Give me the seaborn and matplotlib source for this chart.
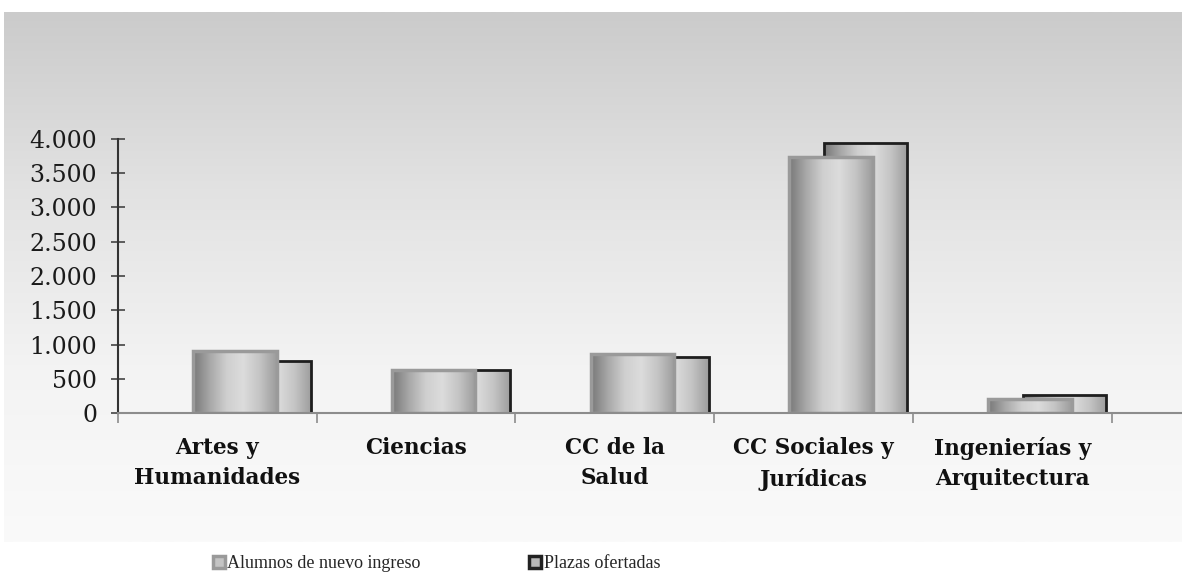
import numpy as np
import pandas as pd
import matplotlib
matplotlib.use("Agg")
import matplotlib.pyplot as plt
from matplotlib.colors import LinearSegmentedColormap
from matplotlib.patches import Patch
import seaborn as sns

# ---- data ----
categories = ["Artes y\nHumanidades", "Ciencias", "CC de la\nSalud",
              "CC Sociales y\nJurídicas", "Ingenierías y\nArquitectura"]
alumnos = [905, 635, 855, 3730, 210]
plazas = [760, 625, 815, 3940, 260]
series_names = ["Alumnos de nuevo ingreso", "Plazas ofertadas"]
ytick_values = [0, 500, 1000, 1500, 2000, 2500, 3000, 3500, 4000]
ytick_labels = ["0", "500", "1.000", "1.500", "2.000", "2.500", "3.000", "3.500", "4.000"]

sns.set_style("white")
plt.rcParams["font.family"] = ["DejaVu Serif", "DejaVu Sans"]

W, H = 1182, 578
fig = plt.figure(figsize=(W / 100, H / 100), dpi=100)
fig.patch.set_facecolor("white")

# background gradient panel
bg = fig.add_axes([4 / W, (H - 542) / H, (W - 4) / W, (542 - 12) / H], zorder=-5)
grad = np.linspace(0, 1, 256).reshape(-1, 1)
bg_cmap = LinearSegmentedColormap.from_list("bg", ["#cbcbcb", "#e2e2e2", "#f3f3f3", "#fafafa"])
bg.imshow(grad, aspect="auto", cmap=bg_cmap, extent=(0, 1, 0, 1), origin="upper")
bg.set_axis_off()

ax = fig.add_axes([118 / W, (H - 413) / H, (W - 118) / W, 274 / H])
ax.set_facecolor("none")

df = pd.DataFrame({"cat": categories, "alumnos": alumnos, "plazas": plazas})

bar_cmap = LinearSegmentedColormap.from_list(
    "bar", ["#787878", "#a8a8a8", "#cfcfcf", "#dcdcdc", "#c4c4c4", "#9c9c9c"])
hgrad = np.linspace(0, 1, 128).reshape(1, -1)


def style_bars(patches, shift, edgecolor, lw, z):
    for p in patches:
        p.set_x(p.get_x() + shift)
        p.set_facecolor("none")
        p.set_edgecolor(edgecolor)
        p.set_linewidth(lw)
        p.set_zorder(z + 0.2)
        x0, w, h = p.get_x(), p.get_width(), p.get_height()
        im = ax.imshow(hgrad, cmap=bar_cmap, aspect="auto",
                       extent=(x0, x0 + w, 0, h), zorder=z)
        im.set_clip_path(p)


# back series (plazas)
n0 = len(ax.patches)
sns.barplot(data=df, x="cat", y="plazas", order=categories, width=0.42,
            color="#bbbbbb", ax=ax)
style_bars(ax.patches[n0:], 0.263, "#1e1e1e", 2.0, 2)

# front series (alumnos)
n1 = len(ax.patches)
sns.barplot(data=df, x="cat", y="alumnos", order=categories, width=0.42,
            color="#bbbbbb", ax=ax)
style_bars(ax.patches[n1:], 0.089, "#9a9a9a", 2.5, 3)

ax.set_xlim(-0.5, -0.5 + (W - 118) / 198.7)
ax.set_ylim(0, 4000)
ax.set_xlabel("")
ax.set_ylabel("")

ax.set_yticks(ytick_values)
ax.set_yticklabels(ytick_labels, fontsize=17, color="#1a1a1a")
ax.tick_params(axis="y", left=True, direction="inout", length=10, width=1.2,
               color="#444444", pad=10)

ax.set_xticks(range(len(categories)))
ax.set_xticklabels(categories, fontsize=15.5, fontweight="bold", color="#111111",
                   linespacing=1.5)
ax.tick_params(axis="x", which="major", bottom=True, length=0, pad=17)
ax.set_xticks(np.arange(-0.5, len(categories), 1.0), minor=True)
ax.tick_params(axis="x", which="minor", bottom=True, direction="out", length=7,
               width=1.2, color="#8c8c8c")
for lab in ax.get_xticklabels():
    lab.set_verticalalignment("top")

for s in ["top", "right"]:
    ax.spines[s].set_visible(False)
ax.spines["left"].set_color("#333333")
ax.spines["left"].set_linewidth(1.5)
ax.spines["bottom"].set_color("#8c8c8c")
ax.spines["bottom"].set_linewidth(1.5)
ax.spines["bottom"].set_zorder(4)

handles = [Patch(facecolor="#c4c4c4", edgecolor="#9a9a9a", linewidth=2.5, label=series_names[0]),
           Patch(facecolor="#b8b8b8", edgecolor="#222222", linewidth=2.5, label=series_names[1])]
fig.legend(handles=handles, loc="center left", bbox_to_anchor=(213 / W, (H - 564) / H),
           ncol=2, frameon=False, prop={"family": "Liberation Serif", "size": 13},
           handlelength=0.65, handleheight=0.65, handletextpad=0.15,
           columnspacing=6.0, borderpad=0, borderaxespad=0)

fig.savefig("out.png", dpi=100, facecolor="white")
